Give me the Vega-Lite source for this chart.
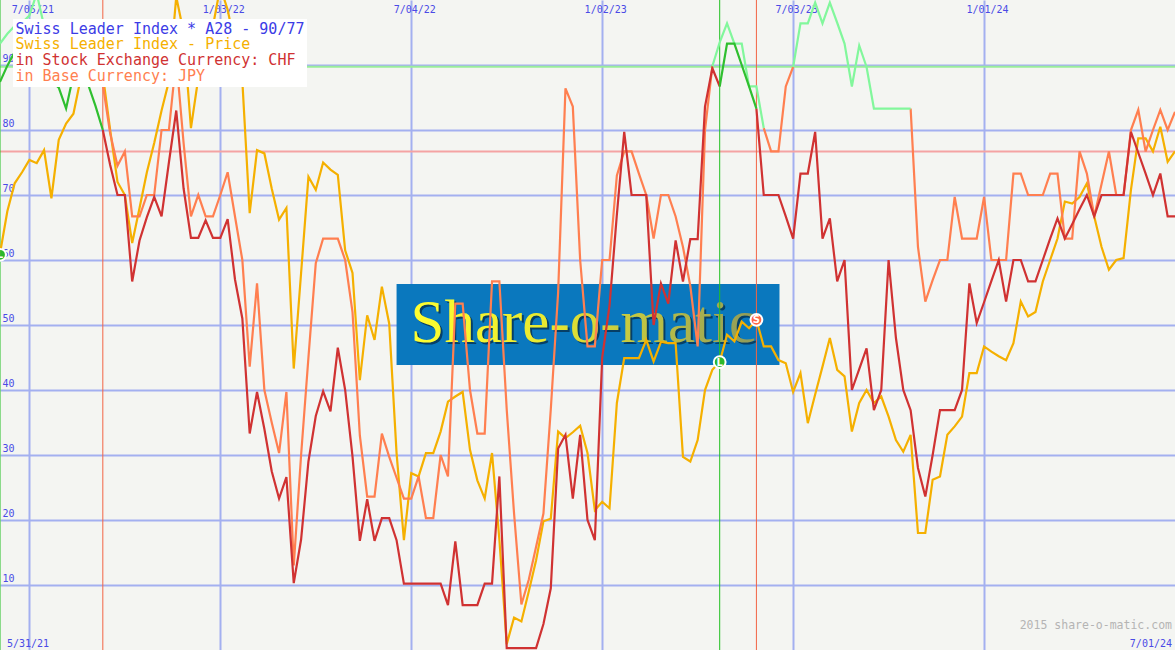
{
  "$schema": "https://vega.github.io/schema/vega-lite/v6.json",
  "width": 1175,
  "height": 650,
  "padding": 0,
  "autosize": {"type": "none"},
  "background": "#f4f5f2",
  "config": {"view": {"stroke": null}},
  "datasets": {
    "weekly": [
      {"date":"2021-06-07","price":61,"chfBuy":87.4,"jpyBuy":93.3},
      {"date":"2021-06-14","price":67.5,"chfBuy":89.9,"jpyBuy":94.8},
      {"date":"2021-06-21","price":71.8,"chfBuy":92,"jpyBuy":96},
      {"date":"2021-06-28","price":73.5,"chfBuy":94,"jpyBuy":96.5},
      {"date":"2021-07-05","price":75.4,"chfBuy":95,"jpyBuy":97.6},
      {"date":"2021-07-12","price":74.9,"chfBuy":94,"jpyBuy":101},
      {"date":"2021-07-19","price":76.9,"chfBuy":91,"jpyBuy":96},
      {"date":"2021-07-26","price":69.5,"chfBuy":87.5,"jpyBuy":93},
      {"date":"2021-08-02","price":78.5,"chfBuy":86.5,"jpyBuy":92},
      {"date":"2021-08-09","price":81,"chfBuy":83.3,"jpyBuy":90},
      {"date":"2021-08-16","price":82.5,"chfBuy":88.5,"jpyBuy":91},
      {"date":"2021-08-23","price":88,"chfBuy":91,"jpyBuy":89.5},
      {"date":"2021-08-30","price":95,"chfBuy":87,"jpyBuy":86.9},
      {"date":"2021-09-06","price":96,"chfBuy":83.7,"jpyBuy":86.9},
      {"date":"2021-09-13","price":88.5,"chfBuy":80,"chf":80,"jpyBuy":87,"jpy":87},
      {"date":"2021-09-20","price":80,"chf":74.6,"jpy":79.5},
      {"date":"2021-09-27","price":72,"chf":70,"jpy":74.5},
      {"date":"2021-10-04","price":70,"chf":70,"jpy":76.7},
      {"date":"2021-10-11","price":62.6,"chf":56.7,"jpy":66.7},
      {"date":"2021-10-18","price":68,"chf":63,"jpy":66.7},
      {"date":"2021-10-25","price":73.5,"chf":66.6,"jpy":70},
      {"date":"2021-11-01","price":78,"chf":69.7,"jpy":70},
      {"date":"2021-11-08","price":83,"chf":66.7,"jpy":80},
      {"date":"2021-11-15","price":87.5,"chf":75,"jpy":80},
      {"date":"2021-11-22","price":100.5,"chf":83,"jpy":91},
      {"date":"2021-11-29","price":95,"chf":71,"jpy":78},
      {"date":"2021-12-06","price":80.3,"chf":63.4,"jpy":66.7},
      {"date":"2021-12-13","price":88,"chf":63.4,"jpy":70},
      {"date":"2021-12-20","price":92,"chf":66.1,"jpy":66.7},
      {"date":"2021-12-27","price":96,"chf":63.4,"jpy":66.7},
      {"date":"2022-01-03","price":102,"chf":63.4,"jpy":70},
      {"date":"2022-01-10","price":98.5,"chf":66.3,"jpy":73.5},
      {"date":"2022-01-17","price":93,"chf":57,"jpy":66.7},
      {"date":"2022-01-24","price":87.5,"chf":51,"jpy":60},
      {"date":"2022-01-31","price":67.2,"chf":33.3,"jpy":43.6},
      {"date":"2022-02-07","price":76.9,"chf":39.7,"jpy":56.4},
      {"date":"2022-02-14","price":76.4,"chf":34,"jpy":40},
      {"date":"2022-02-21","price":71,"chf":27.5,"jpy":35},
      {"date":"2022-02-28","price":66.2,"chf":23.3,"jpy":30.3},
      {"date":"2022-03-07","price":68,"chf":26.6,"jpy":39.7},
      {"date":"2022-03-14","price":43.3,"chf":10.3,"jpy":13},
      {"date":"2022-03-21","price":58,"chf":17,"jpy":30},
      {"date":"2022-03-28","price":72.8,"chf":29,"jpy":45},
      {"date":"2022-04-04","price":70.8,"chf":36,"jpy":59.5},
      {"date":"2022-04-11","price":75,"chf":39.8,"jpy":63.3},
      {"date":"2022-04-18","price":73.9,"chf":36.7,"jpy":63.3},
      {"date":"2022-04-25","price":73.1,"chf":46.5,"jpy":63.3},
      {"date":"2022-05-02","price":61.5,"chf":40,"jpy":60},
      {"date":"2022-05-09","price":58,"chf":29.8,"jpy":52},
      {"date":"2022-05-16","price":41.5,"chf":16.8,"jpy":33},
      {"date":"2022-05-23","price":51.5,"chf":23.2,"jpy":23.6},
      {"date":"2022-05-30","price":47.7,"chf":16.8,"jpy":23.6},
      {"date":"2022-06-06","price":55.9,"chf":20.3,"jpy":33.3},
      {"date":"2022-06-13","price":50.2,"chf":20.3,"jpy":29.7},
      {"date":"2022-06-20","price":30.3,"chf":16.9,"jpy":26.5},
      {"date":"2022-06-27","price":16.9,"chf":10.2,"jpy":23.3},
      {"date":"2022-07-04","price":27.2,"chf":10.2,"jpy":23.3},
      {"date":"2022-07-11","price":26.7,"chf":10.2,"jpy":26.7},
      {"date":"2022-07-18","price":30.3,"chf":10.2,"jpy":20.3},
      {"date":"2022-07-25","price":30.3,"chf":10.2,"jpy":20.3},
      {"date":"2022-08-01","price":33.6,"chf":10.2,"jpy":30},
      {"date":"2022-08-08","price":38.2,"chf":6.9,"jpy":26.7},
      {"date":"2022-08-15","price":39,"chf":16.7,"jpy":53.3},
      {"date":"2022-08-22","price":39.7,"chf":6.9,"jpy":53.3},
      {"date":"2022-08-29","price":30.8,"chf":6.9,"jpy":40},
      {"date":"2022-09-05","price":26.1,"chf":6.9,"jpy":33.3},
      {"date":"2022-09-12","price":23.3,"chf":10.2,"jpy":33.3},
      {"date":"2022-09-19","price":30.3,"chf":10.2,"jpy":56.7},
      {"date":"2022-09-26","price":17,"chf":26.7,"jpy":56.7},
      {"date":"2022-10-03","price":0.9,"chf":0.3,"jpy":37},
      {"date":"2022-10-10","price":5,"chf":0.3,"jpy":21},
      {"date":"2022-10-17","price":4.4,"chf":0.3,"jpy":7},
      {"date":"2022-10-24","price":9,"chf":0.3,"jpy":10.8},
      {"date":"2022-10-31","price":13.8,"chf":0.3,"jpy":15.9},
      {"date":"2022-11-07","price":19.8,"chf":4,"jpy":21},
      {"date":"2022-11-14","price":20.2,"chf":9.5,"jpy":37},
      {"date":"2022-11-21","price":33.6,"chf":31,"jpy":55},
      {"date":"2022-11-28","price":32.6,"chf":33.1,"jpy":86.4},
      {"date":"2022-12-05","price":33.5,"chf":23.3,"jpy":83.6},
      {"date":"2022-12-12","price":34.5,"chf":33.1,"jpy":60},
      {"date":"2022-12-19","price":30.3,"chf":20,"jpy":46.7},
      {"date":"2022-12-26","price":21.5,"chf":16.9,"jpy":46.7},
      {"date":"2023-01-02","price":22.8,"chf":45,"jpy":60},
      {"date":"2023-01-09","price":21.8,"chf":53,"jpy":60},
      {"date":"2023-01-16","price":38,"chf":67,"jpy":73},
      {"date":"2023-01-23","price":44.9,"chf":79.7,"jpy":76.7},
      {"date":"2023-01-30","price":44.9,"chf":70,"jpy":76.7},
      {"date":"2023-02-06","price":44.9,"chf":70,"jpy":73.3},
      {"date":"2023-02-13","price":47.7,"chf":70,"jpy":70},
      {"date":"2023-02-20","price":44.4,"chf":50,"jpy":63.3},
      {"date":"2023-02-27","price":47.4,"chf":56.4,"jpy":70},
      {"date":"2023-03-06","price":47.2,"chf":53.3,"jpy":70},
      {"date":"2023-03-13","price":47.2,"chf":63,"jpy":66.7},
      {"date":"2023-03-20","price":29.7,"chf":56.7,"jpy":62},
      {"date":"2023-03-27","price":29,"chf":63.2,"jpy":56},
      {"date":"2023-04-03","price":32.3,"chf":63.2,"jpy":46.7},
      {"date":"2023-04-10","price":40,"chf":83.6,"jpy":80},
      {"date":"2023-04-17","price":43.1,"chf":89.5,"jpy":89.8,"jpyBuy":89.8},
      {"date":"2023-04-24","price":44.3,"chf":86.7,"chfBuy":86.7,"jpyBuy":93.5},
      {"date":"2023-05-01","price":48.5,"chfBuy":93.3,"jpyBuy":96.4},
      {"date":"2023-05-08","price":47.5,"chfBuy":93.3,"jpyBuy":93.3},
      {"date":"2023-05-15","price":50.5,"chfBuy":90,"jpyBuy":93.3},
      {"date":"2023-05-22","price":49.5,"chfBuy":86.7,"jpyBuy":86.7},
      {"date":"2023-05-29","price":50.8,"chfBuy":83.3,"chf":83.3,"jpyBuy":86.7},
      {"date":"2023-06-05","price":46.7,"chf":70,"jpyBuy":80.3,"jpy":80.3},
      {"date":"2023-06-12","price":46.7,"chf":70,"jpy":76.7},
      {"date":"2023-06-19","price":44.6,"chf":70,"jpy":76.7},
      {"date":"2023-06-26","price":44.1,"chf":66.7,"jpy":86.7},
      {"date":"2023-07-03","price":39.7,"chf":63.3,"jpy":89.7,"jpyBuy":89.7},
      {"date":"2023-07-10","price":42.6,"chf":73.3,"jpyBuy":96.4},
      {"date":"2023-07-17","price":34.9,"chf":73.3,"jpyBuy":96.4},
      {"date":"2023-07-24","price":39.3,"chf":79.7,"jpyBuy":99.6},
      {"date":"2023-07-31","price":43.6,"chf":63.3,"jpyBuy":96.4},
      {"date":"2023-08-07","price":48,"chf":66.4,"jpyBuy":99.6},
      {"date":"2023-08-14","price":43.1,"chf":56.7,"jpyBuy":96.5},
      {"date":"2023-08-21","price":42.1,"chf":60,"jpyBuy":93.3},
      {"date":"2023-08-28","price":33.6,"chf":40,"jpyBuy":86.7},
      {"date":"2023-09-04","price":38,"chf":43.2,"jpyBuy":93},
      {"date":"2023-09-11","price":40,"chf":46.4,"jpyBuy":89.7},
      {"date":"2023-09-18","price":38,"chf":36.9,"jpyBuy":83.3},
      {"date":"2023-09-25","price":39,"chf":40,"jpyBuy":83.3},
      {"date":"2023-10-02","price":35.9,"chf":60,"jpyBuy":83.3},
      {"date":"2023-10-09","price":32.3,"chf":48,"jpyBuy":83.3},
      {"date":"2023-10-16","price":30.5,"chf":40,"jpyBuy":83.3},
      {"date":"2023-10-23","price":33.1,"chf":36.9,"jpyBuy":83.3,"jpy":83.3},
      {"date":"2023-10-30","price":18,"chf":28,"jpy":62},
      {"date":"2023-11-06","price":18,"chf":23.6,"jpy":53.6},
      {"date":"2023-11-13","price":26.2,"chf":30,"jpy":56.9},
      {"date":"2023-11-20","price":26.7,"chf":36.9,"jpy":60},
      {"date":"2023-11-27","price":33.1,"chf":36.9,"jpy":60},
      {"date":"2023-12-04","price":34.4,"chf":36.9,"jpy":69.7},
      {"date":"2023-12-11","price":35.9,"chf":40,"jpy":63.3},
      {"date":"2023-12-18","price":42.6,"chf":56.4,"jpy":63.3},
      {"date":"2023-12-25","price":42.6,"chf":50.3,"jpy":63.3},
      {"date":"2024-01-01","price":46.7,"chf":53.5,"jpy":69.7},
      {"date":"2024-01-08","price":45.9,"chf":56.8,"jpy":60},
      {"date":"2024-01-15","price":45.2,"chf":60,"jpy":60},
      {"date":"2024-01-22","price":44.6,"chf":53.6,"jpy":60},
      {"date":"2024-01-29","price":47.2,"chf":60,"jpy":73.3},
      {"date":"2024-02-05","price":53.6,"chf":60,"jpy":73.3},
      {"date":"2024-02-12","price":51.3,"chf":56.7,"jpy":70},
      {"date":"2024-02-19","price":52,"chf":56.7,"jpy":70},
      {"date":"2024-02-26","price":56.7,"chf":60,"jpy":70},
      {"date":"2024-03-04","price":60,"chf":63.3,"jpy":73.3},
      {"date":"2024-03-11","price":63.3,"chf":66.4,"jpy":73.3},
      {"date":"2024-03-18","price":69,"chf":63.3,"jpy":63.3},
      {"date":"2024-03-25","price":68.7,"chf":65.5,"jpy":63.3},
      {"date":"2024-04-01","price":69.7,"chf":67.8,"jpy":76.7},
      {"date":"2024-04-08","price":71.8,"chf":70,"jpy":73.3},
      {"date":"2024-04-15","price":66.7,"chf":66.7,"jpy":66.7},
      {"date":"2024-04-22","price":62,"chf":70,"jpy":71.7},
      {"date":"2024-04-29","price":58.5,"chf":70,"jpy":76.7},
      {"date":"2024-05-06","price":60,"chf":70,"jpy":70},
      {"date":"2024-05-13","price":60.3,"chf":70,"jpy":70},
      {"date":"2024-05-20","price":70.8,"chf":79.7,"jpy":80},
      {"date":"2024-05-27","price":78.7,"chf":76.5,"jpy":83.1},
      {"date":"2024-06-03","price":78.7,"chf":73.3,"jpy":76.7},
      {"date":"2024-06-10","price":76.7,"chf":70,"jpy":80},
      {"date":"2024-06-17","price":80.5,"chf":73.3,"jpy":83.1},
      {"date":"2024-06-24","price":75.1,"chf":66.7,"jpy":80},
      {"date":"2024-07-01","price":76.7,"chf":66.7,"jpy":82.8}
    ],
    "signals": [
      {"date":"2021-06-07","signal":"L","price":60.8},
      {"date":"2021-09-13","signal":"S"},
      {"date":"2023-04-24","signal":"L","price":44.3},
      {"date":"2023-05-29","signal":"S","price":50.8}
    ]
  },
  "layer": [
    {
      "data": {"values": [{"level": 89.75}]},
      "mark": {"type": "rule", "color": "#9aec9a", "strokeWidth": 2},
      "encoding": {"y": {"field": "level", "type": "quantitative"}}
    },
    {
      "data": {"values": [{"level": 76.7}]},
      "mark": {"type": "rule", "color": "#f4a3a3", "strokeWidth": 2},
      "encoding": {"y": {"field": "level", "type": "quantitative"}}
    },
    {
      "data": {"values": [{}]},
      "mark": {"type": "rect", "color": "#0a78be"},
      "encoding": {
        "x": {"datum": {"year": 2022, "month": 6, "date": 20, "utc": true}, "type": "temporal"},
        "x2": {"datum": {"year": 2023, "month": 6, "date": 20, "utc": true}},
        "y": {"datum": 43.85, "type": "quantitative"},
        "y2": {"datum": 56.3}
      }
    },
    {
      "data": {"values": [{}]},
      "mark": {"type": "text", "text": "Share-o-matic", "font": "Liberation Serif", "fontSize": 61, "align": "center", "baseline": "alphabetic", "fill": "#063f66", "dx": 2, "dy": 2},
      "encoding": {
        "x": {"datum": {"year": 2022, "month": 12, "date": 15, "utc": true}, "type": "temporal"},
        "y": {"datum": 47.4, "type": "quantitative"}
      }
    },
    {
      "data": {"values": [{}]},
      "mark": {"type": "text", "text": "Share-o-matic", "font": "Liberation Serif", "fontSize": 61, "align": "center", "baseline": "alphabetic",
        "fill": {"gradient": "linear", "x1": 0, "y1": 0, "x2": 1, "y2": 0, "stops": [{"offset": 0, "color": "#ffff30"}, {"offset": 0.4, "color": "#e8e830"}, {"offset": 1, "color": "#8f9a5a"}]}},
      "encoding": {
        "x": {"datum": {"year": 2022, "month": 12, "date": 15, "utc": true}, "type": "temporal"},
        "y": {"datum": 47.4, "type": "quantitative"}
      }
    },
    {
      "data": {"name": "signals"},
      "transform": [{"filter": "datum.signal == 'L'"}],
      "mark": {"type": "rule", "color": "#22c022", "strokeWidth": 1},
      "encoding": {"x": {"field": "date", "type": "temporal"}}
    },
    {
      "data": {"name": "signals"},
      "transform": [{"filter": "datum.signal == 'S'"}],
      "mark": {"type": "rule", "color": "#f26545", "strokeWidth": 1},
      "encoding": {"x": {"field": "date", "type": "temporal"}}
    },
    {
      "data": {"name": "weekly"},
      "transform": [
        {"fold": ["price", "jpy", "chf", "jpyBuy", "chfBuy"], "as": ["series", "value"]}
      ],
      "mark": {"type": "line", "strokeWidth": 2.2, "clip": true, "invalid": "break-paths-show-domains"},
      "encoding": {
        "x": {
          "field": "date", "type": "temporal",
          "scale": {"type": "utc", "domain": [{"year": 2021, "month": 6, "date": 7, "utc": true}, {"year": 2024, "month": 7, "date": 1, "utc": true}]},
          "axis": {
            "orient": "top", "title": null,
            "values": [
              {"year": 2021, "month": 7, "date": 5, "utc": true},
              {"year": 2022, "month": 1, "date": 3, "utc": true},
              {"year": 2022, "month": 7, "date": 4, "utc": true},
              {"year": 2023, "month": 1, "date": 2, "utc": true},
              {"year": 2023, "month": 7, "date": 3, "utc": true},
              {"year": 2024, "month": 1, "date": 1, "utc": true}
            ],
            "labelExpr": "utcFormat(datum.value, '%-m/%d/%y')",
            "grid": true, "gridColor": "#a3b0f0", "gridWidth": 2, "gridOpacity": 1,
            "domain": false, "ticks": false,
            "labelPadding": -12.7, "labelBaseline": "alphabetic", "labelOffset": 3,
            "labelColor": "#4a4ae6", "labelFont": "DejaVu Sans Mono", "labelFontSize": 10,
            "labelFlush": false, "labelOverlap": false
          }
        },
        "y": {
          "field": "value", "type": "quantitative",
          "scale": {"domain": [0, 100], "nice": false, "zero": false},
          "axis": {
            "orient": "left", "title": null,
            "values": [10, 20, 30, 40, 50, 60, 70, 80, 90],
            "grid": true, "gridColor": "#a3b0f0", "gridWidth": 2, "gridOpacity": 1,
            "domain": false, "ticks": false,
            "labelAlign": "left", "labelPadding": -2, "labelBaseline": "alphabetic", "labelOffset": -3.3,
            "labelColor": "#4a4ae6", "labelFont": "DejaVu Sans Mono", "labelFontSize": 10,
            "labelFlush": false, "labelOverlap": false
          }
        },
        "color": {
          "field": "series", "type": "nominal",
          "scale": {"domain": ["price", "chf", "jpy", "chfBuy", "jpyBuy"], "range": ["#f5b000", "#d03232", "#ff7f50", "#2fbf2f", "#82f79c"]},
          "legend": {
            "values": ["price", "chf", "jpy"],
            "title": "Swiss Leader Index * A28 - 90/77",
            "labelExpr": "datum.label == 'price' ? 'Swiss Leader Index - Price' : datum.label == 'chf' ? 'in Stock Exchange Currency: CHF' : 'in Base Currency: JPY'",
            "orient": "none", "legendX": 13, "legendY": 19,
            "fillColor": "#ffffff", "padding": 2.5, "titlePadding": 0, "rowPadding": 0,
            "titleFont": "DejaVu Sans Mono", "titleFontSize": 15, "titleFontWeight": "normal", "titleColor": "#3c3ce6", "titleLimit": 500,
            "labelFont": "DejaVu Sans Mono", "labelFontSize": 15, "labelLimit": 500, "labelOffset": -15,
            "symbolSize": 0, "symbolStrokeWidth": 0, "symbolOpacity": 0, "symbolType": "circle",
            "encode": {"labels": {"update": {"fill": {"scale": "color", "field": "value"}}}}
          }
        }
      }
    },
    {
      "data": {"name": "signals"},
      "transform": [{"filter": "isValid(datum.price)"}],
      "mark": {"type": "point", "filled": true, "size": 140, "stroke": "#ffffff", "strokeWidth": 2, "strokeOpacity": 1, "opacity": 1},
      "encoding": {
        "x": {"field": "date", "type": "temporal"},
        "y": {"field": "price", "type": "quantitative"},
        "fill": {"condition": {"test": "datum.signal == 'L'", "value": "#2cb82c"}, "value": "#ff6645"}
      }
    },
    {
      "data": {"name": "signals"},
      "transform": [{"filter": "isValid(datum.price)"}],
      "mark": {"type": "text", "font": "DejaVu Sans", "fontWeight": "bold", "fontSize": 10, "color": "#ffffff", "align": "center", "baseline": "middle", "dy": 0.5},
      "encoding": {
        "x": {"field": "date", "type": "temporal"},
        "y": {"field": "price", "type": "quantitative"},
        "text": {"field": "signal"}
      }
    },
    {
      "data": {"values": [{}]},
      "mark": {"type": "text", "text": "5/31/21", "font": "DejaVu Sans Mono", "fontSize": 10, "color": "#4a4ae6", "align": "left", "baseline": "alphabetic", "dx": 7, "dy": -3.3},
      "encoding": {
        "x": {"datum": {"year": 2021, "month": 6, "date": 7, "utc": true}, "type": "temporal"},
        "y": {"datum": 0, "type": "quantitative"}
      }
    },
    {
      "data": {"values": [{}]},
      "mark": {"type": "text", "text": "7/01/24", "font": "DejaVu Sans Mono", "fontSize": 10, "color": "#4a4ae6", "align": "right", "baseline": "alphabetic", "dx": -3, "dy": -3.3},
      "encoding": {
        "x": {"datum": {"year": 2024, "month": 7, "date": 1, "utc": true}, "type": "temporal"},
        "y": {"datum": 0, "type": "quantitative"}
      }
    },
    {
      "data": {"values": [{}]},
      "mark": {"type": "text", "text": "2015 share-o-matic.com", "font": "DejaVu Sans Mono", "fontSize": 11.5, "color": "#b4b4b4", "align": "right", "baseline": "alphabetic", "dx": -3, "dy": -21},
      "encoding": {
        "x": {"datum": {"year": 2024, "month": 7, "date": 1, "utc": true}, "type": "temporal"},
        "y": {"datum": 0, "type": "quantitative"}
      }
    }
  ]
}
